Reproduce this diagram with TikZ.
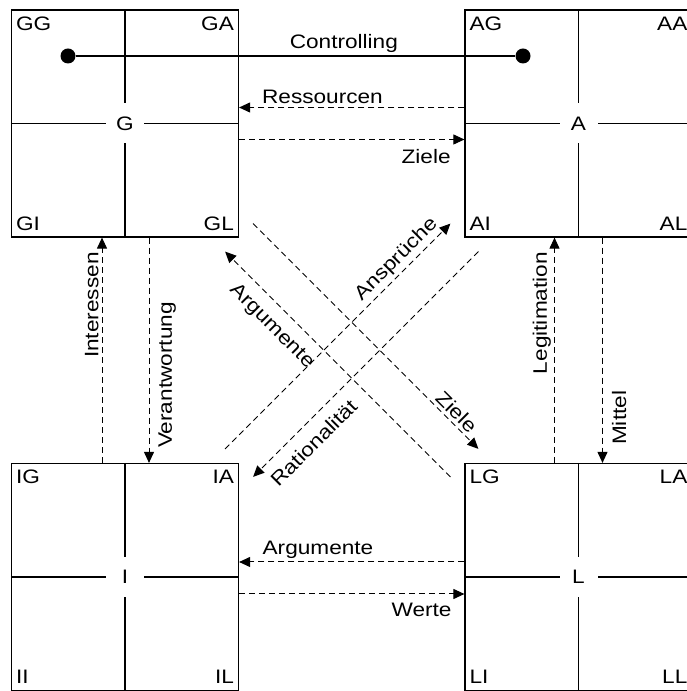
\documentclass[tikz,border=0pt]{standalone}
\usepackage{fontspec}
\setmainfont{Liberation Sans}[FakeStretch=1.16]
\usetikzlibrary{arrows.meta,positioning}

\begin{document}
\begin{tikzpicture}[x=1pt,y=1pt,font=\fontsize{19.5}{24}\selectfont]
		\tikzstyle{feld}=[draw, line width=1.2pt, minimum size=227pt, inner sep=0pt]
		\tikzstyle{kern}=[fill=white, minimum width=38pt, minimum height=40pt, inner sep=0pt]
		\tikzstyle{ecke}=[inner xsep=5pt, inner ysep=7pt]
		\tikzstyle{fluss}=[line width=1pt, dash pattern=on 6pt off 4pt, -{Triangle[length=11pt,width=10pt]}]
		\tikzstyle{punkt}=[circle, fill=black, minimum size=15pt, inner sep=0pt]
		\tikzstyle{nah}=[inner sep=3pt]
		\tikzstyle{fern}=[inner sep=9pt]

		\useasboundingbox (0,0) rectangle (687,691);

		\node [feld] (G) at (125,567.5) {};
		\node [feld] (A) at (578.5,567.5) {};
		\node [feld] (I) at (125,114) {};
		\node [feld] (L) at (578.5,114) {};

		\foreach \n in {G,A,I,L} {
			\draw [line width=1.2pt] (\n.north) -- (\n.south) (\n.west) -- (\n.east);
			\node [kern] at (\n.center) {\n};
			\node [ecke, anchor=north west] at (\n.north west) {\n G};
			\node [ecke, anchor=north east] at (\n.north east) {\n A};
			\node [ecke, anchor=south west] at (\n.south west) {\n I};
			\node [ecke, anchor=south east] at (\n.south east) {\n L};
		}

		% Controlling
		\node [punkt] (gdot) at ([shift={(-57,67.5)}]G.center) {};
		\node [punkt] (adot) at ([shift={(-55.5,67.5)}]A.center) {};
		\draw [line width=1.2pt] (gdot) -- (adot) node [pos=0.61, above, nah] {Controlling};

		% waagrecht
		\draw [fluss] ([yshift=16pt]A.west) -- ([yshift=16pt]G.east) node [pos=0.63, above, nah] {Ressourcen};
		\draw [fluss] ([yshift=-16pt]G.east) -- ([yshift=-16pt]A.west) node [pos=0.83, below, fern] {Ziele};
		\draw [fluss] ([yshift=15pt]L.west) -- ([yshift=15pt]I.east) node [pos=0.65, above, nah] {Argumente};
		\draw [fluss] ([yshift=-17pt]I.east) -- ([yshift=-17pt]L.west) node [pos=0.81, below, fern] {Werte};

		% senkrecht
		\draw [fluss] ([xshift=-23pt]I.north) -- ([xshift=-23pt]G.south) node [pos=0.7, rotate=90, anchor=south, nah] {Interessen};
		\draw [fluss] ([xshift=24pt]G.south) -- ([xshift=24pt]I.north) node [pos=0.61, rotate=90, anchor=north, fern] {Verantwortung};
		\draw [fluss] ([xshift=-24pt]L.north) -- ([xshift=-24pt]A.south) node [pos=0.665, rotate=90, anchor=south, nah] {Legitimation};
		\draw [fluss] ([xshift=24pt]A.south) -- ([xshift=24pt]L.north) node [pos=0.8, rotate=90, anchor=north, fern] {Mittel};

		% diagonal
		\draw [fluss] ([shift={(14,14)}]G.south east) -- ([shift={(14,14)}]L.north west) node [pos=0.87, sloped, above, nah] {Ziele};
		\draw [fluss] ([shift={(-14,-14)}]L.north west) -- ([shift={(-14,-14)}]G.south east) node [pos=0.73, sloped, below, fern, inner sep=11pt] {Argumente};
		\draw [fluss] ([shift={(-14,14)}]I.north east) -- ([shift={(-14,14)}]A.south west) node [pos=0.8, sloped, above, nah] {Ansprüche};
		\draw [fluss] ([shift={(14,-14)}]A.south west) -- ([shift={(14,-14)}]I.north east) node [pos=0.79, sloped, below, fern, inner sep=11pt] {Rationalität};

	\end{tikzpicture}
\end{document}
